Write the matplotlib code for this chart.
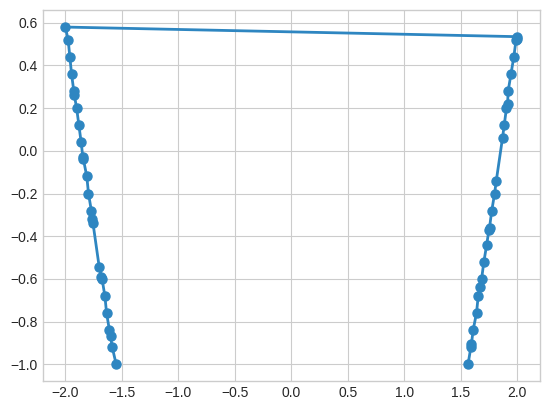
import matplotlib
matplotlib.use("Agg")
import matplotlib.pyplot as plt

# left branch, bottom to top
left_x = [-1.55, -1.585, -1.60, -1.61, -1.635, -1.65, -1.675, -1.68, -1.70,
          -1.755, -1.76, -1.77, -1.795, -1.81, -1.84, -1.845, -1.86, -1.88,
          -1.90, -1.92, -1.925, -1.945, -1.96, -1.975, -2.0]
left_y = [-1.0, -0.92, -0.87, -0.84, -0.76, -0.68, -0.60, -0.59, -0.545,
          -0.34, -0.32, -0.28, -0.20, -0.12, -0.04, -0.03, 0.04, 0.12,
          0.20, 0.26, 0.28, 0.36, 0.44, 0.52, 0.58]

# right branch, top to bottom
right_x = [2.0, 1.995, 1.99, 1.97, 1.945, 1.92, 1.915, 1.905, 1.885, 1.87,
           1.815, 1.80, 1.775, 1.755, 1.75, 1.73, 1.705, 1.685, 1.67, 1.655,
           1.64, 1.61, 1.595, 1.59, 1.565]
right_y = [0.535, 0.525, 0.52, 0.44, 0.36, 0.28, 0.22, 0.20, 0.12, 0.06,
           -0.14, -0.20, -0.28, -0.36, -0.37, -0.44, -0.52, -0.60, -0.64, -0.68,
           -0.76, -0.84, -0.905, -0.92, -1.0]

plt.style.use("seaborn-v0_8-whitegrid")

fig = plt.figure(figsize=(5.48, 4.08), dpi=100)
ax = fig.add_subplot(111)
fig.subplots_adjust(left=0.078, right=0.985, top=0.975, bottom=0.066)

ax.plot(left_x + right_x, left_y + right_y, color="#2e86c1", linewidth=2,
        marker="o", markersize=6.5)

fig.savefig("out.png", dpi=100)
